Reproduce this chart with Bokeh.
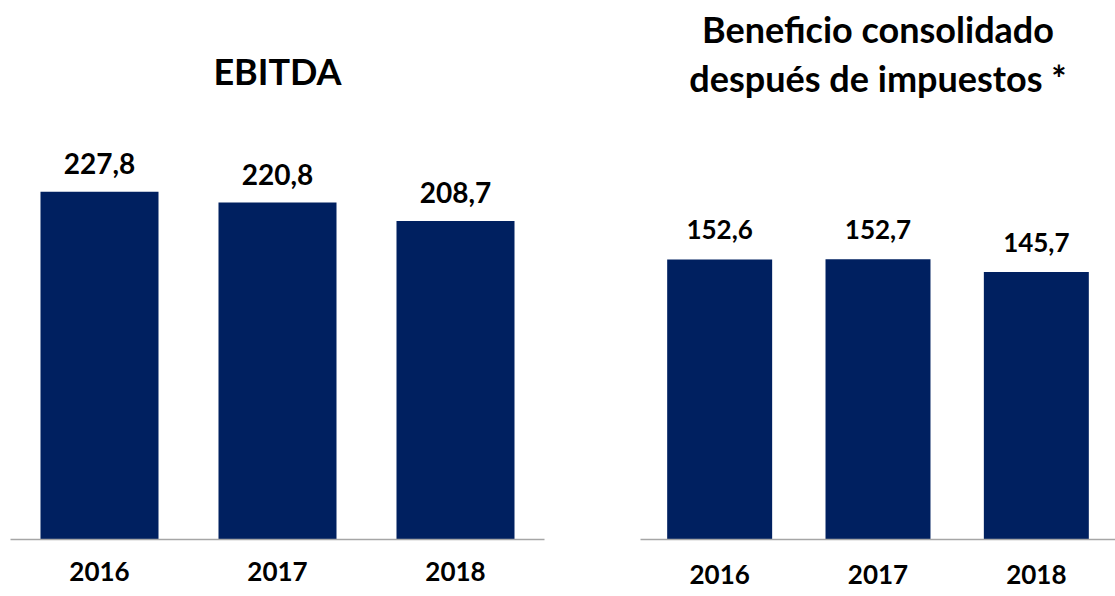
from bokeh.plotting import figure
from bokeh.layouts import row
from bokeh.models import Range1d, FixedTicker, ColumnDataSource
from bokeh.core.properties import value
from bokeh.embed import file_html
from bokeh.resources import INLINE

years = [2016, 2017, 2018]
ebitda = [227.8, 220.8, 208.7]
beneficio = [152.6, 152.7, 145.7]
title_left = ["EBITDA"]
title_right = ["Beneficio consolidado", "después de impuestos *"]

FONT = "Lato"
BAR = "#002060"


def fmt(v):
    return f"{v:.1f}".replace(".", ",")


def make(vals, width, x_end, y_end, mb_left, mb_right, mb_bottom, standoff, lbl_size, lbl_off):
    src = ColumnDataSource(dict(x=years, y=vals, t=[fmt(v) for v in vals]))
    p = figure(width=width, height=596, output_backend="svg", toolbar_location=None,
               x_range=Range1d(2015.5, x_end), y_range=Range1d(0, y_end),
               y_axis_location=None, min_border_left=mb_left, min_border_right=mb_right,
               min_border_top=0, min_border_bottom=mb_bottom)
    p.outline_line_color = None
    p.grid.visible = False
    p.vbar(x="x", top="y", width=0.663, bottom=0, source=src, fill_color=BAR, line_color=None)
    p.text(x="x", y="y", text="t", source=src, text_align="center", text_baseline="alphabetic",
           y_offset=lbl_off, text_font=value(FONT), text_font_style="bold",
           text_font_size=f"{lbl_size}px", text_color="#000000")
    ax = p.xaxis[0]
    ax.ticker = FixedTicker(ticks=years)
    ax.major_label_overrides = {y: str(y) for y in years}
    ax.major_tick_line_color = None
    ax.minor_tick_line_color = None
    ax.major_tick_out = 0
    ax.major_tick_in = 0
    ax.axis_line_color = "#a6a6a6"
    ax.axis_line_width = 1.5
    ax.major_label_standoff = standoff
    ax.major_label_text_font = FONT
    ax.major_label_text_font_style = "bold"
    ax.major_label_text_font_size = "26px"
    ax.major_label_text_color = "#000000"
    return p


left = make(ebitda, 600, 2018.5, 353.1, 10, 56, 54, 22, 28, -28)
left.text(x=[2017], y=[297.7], text=title_left, text_align="center", text_baseline="alphabetic",
          y_offset=-14, text_font=value(FONT), text_font_style="bold", text_font_size="36px",
          text_color="#000000")

right = make(beneficio, 515, 2018.5, 293.7, 40, 0, 57, 25, 26, -30)
right.text(x=[2017, 2017], y=[270.3, 244.1], text=title_right, text_align="center",
           text_baseline="alphabetic", y_offset=-14, text_font=value(FONT),
           text_font_style="bold", text_font_size="36px", text_color="#000000")

layout = row(left, right)
open("out.html", "w").write(file_html(layout, INLINE))
